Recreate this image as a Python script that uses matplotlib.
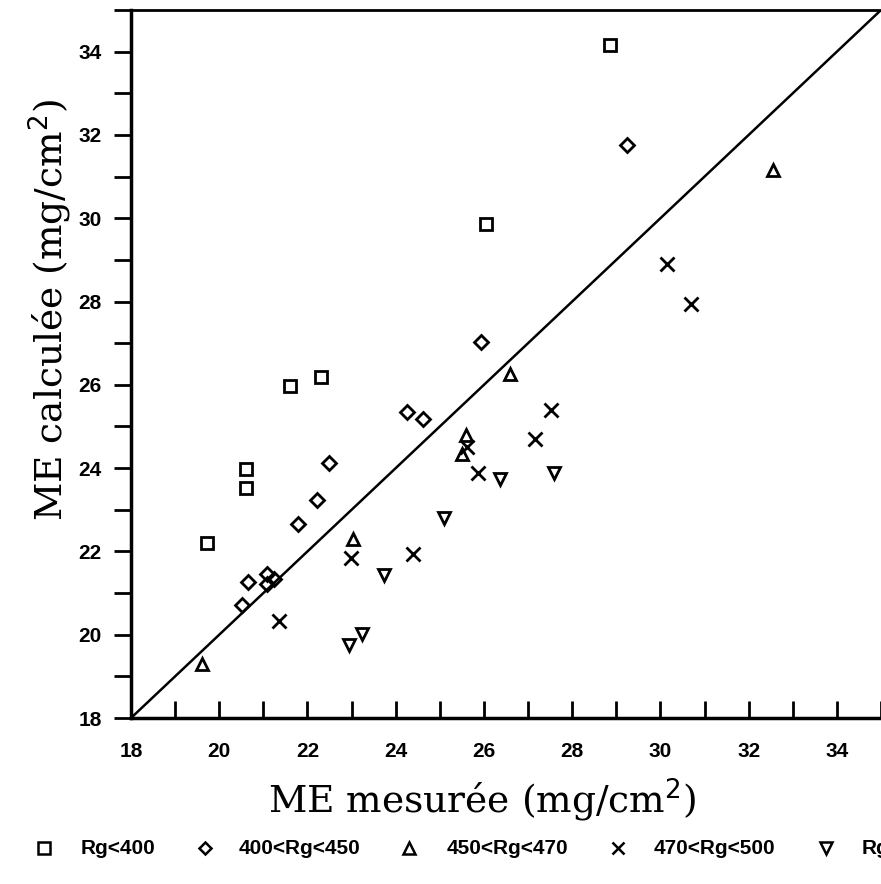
import matplotlib
matplotlib.use("Agg")
import matplotlib.pyplot as plt
from matplotlib.ticker import MultipleLocator

# Data
sq_x = [28.86, 26.05, 21.60, 22.31, 20.61, 20.61, 19.72]
sq_y = [34.16, 29.85, 25.98, 26.18, 23.97, 23.52, 22.20]

di_x = [29.25, 25.94, 24.26, 24.62, 22.49, 22.22, 21.79, 20.65, 20.52, 21.08, 21.24, 21.08]
di_y = [31.77, 27.04, 25.34, 25.19, 24.12, 23.23, 22.65, 21.26, 20.71, 21.45, 21.33, 21.21]

tr_x = [32.56, 26.59, 25.60, 25.51, 23.03, 19.61]
tr_y = [31.17, 26.27, 24.79, 24.33, 22.29, 19.29]

xx_x = [30.15, 30.70, 27.52, 27.16, 25.62, 25.87, 22.99, 24.39, 21.36]
xx_y = [28.90, 27.95, 25.39, 24.71, 24.50, 23.88, 21.84, 21.93, 20.33]

it_x = [26.37, 27.59, 25.10, 23.74, 23.24, 22.94]
it_y = [23.73, 23.88, 22.80, 21.43, 20.01, 19.75]

labels = ["Rg<400", "400<Rg<450", "450<Rg<470", "470<Rg<500", "Rg>500"]
xticks = [18, 20, 22, 24, 26, 28, 30, 32, 34]
yticks = [18, 20, 22, 24, 26, 28, 30, 32, 34]
lim = (18, 35)

sans = ["Liberation Sans", "DejaVu Sans"]

fig = plt.figure(figsize=(8.81, 8.84), dpi=100)
ax = fig.add_axes([131/881, 1-718/884, 750/881, 708/884])

mk = dict(linestyle="none", color="black", markerfacecolor="none", markeredgewidth=2.0)
ax.plot(sq_x, sq_y, marker="s", markersize=9, **mk)
ax.plot(di_x, di_y, marker="D", markersize=7, **mk)
ax.plot(tr_x, tr_y, marker="^", markersize=9, **mk)
ax.plot(xx_x, xx_y, marker="x", markersize=10, **mk)
ax.plot(it_x, it_y, marker="v", markersize=9, **mk)

ax.plot(lim, lim, color="black", linewidth=1.8)

ax.set_xlim(*lim)
ax.set_ylim(*lim)
ax.set_xticks(xticks)
ax.set_yticks(yticks)
ax.xaxis.set_minor_locator(MultipleLocator(1))
ax.yaxis.set_minor_locator(MultipleLocator(1))

tickfont = dict(family=sans, weight="bold", size=15)
ax.set_xticklabels([str(t) for t in xticks], fontdict=tickfont)
ax.set_yticklabels([str(t) for t in yticks], fontdict=tickfont)

ax.tick_params(axis="x", which="both", direction="in", length=12, width=2, pad=17)
ax.tick_params(axis="y", which="both", direction="out", length=12, width=2, pad=9)

for s in ["left", "bottom"]:
    ax.spines[s].set_linewidth(2.5)
ax.spines["top"].set_linewidth(2.0)
ax.spines["right"].set_visible(False)

serif = dict(family="DejaVu Serif", size=27)
ax.set_xlabel("ME mesurée (mg/cm$^2$)", fontdict=serif)
ax.xaxis.set_label_coords((482 - 131) / 750, 1 - (800 - 10) / 708)
ax.xaxis.label.set_va("center")
ax.set_ylabel("ME calculée (mg/cm$^2$)", fontdict=serif)
ax.yaxis.set_label_coords((50 - 131) / 750, (718 - 310) / 708)
ax.yaxis.label.set_va("center")

# Legend row at the bottom, extending beyond the right edge
leg_y = 1 - 848/884
mx = [44, 205, 409, 618, 826]
tx = [81, 239, 447, 654, 862]
markers = ["s", "D", "^", "x", "v"]
msz = [8, 6, 8, 9, 8]
for xm, xt, m, s, lab in zip(mx, tx, markers, msz, labels):
    fig.lines.append(plt.Line2D([xm/881], [leg_y], transform=fig.transFigure,
                                marker=m, markersize=s, color="black",
                                markerfacecolor="none", markeredgewidth=1.8,
                                linestyle="none"))
    fig.text(xt/881, leg_y, lab, family=sans, weight="bold",
             size=15, va="center", ha="left")

fig.savefig("out.png", dpi=100)
